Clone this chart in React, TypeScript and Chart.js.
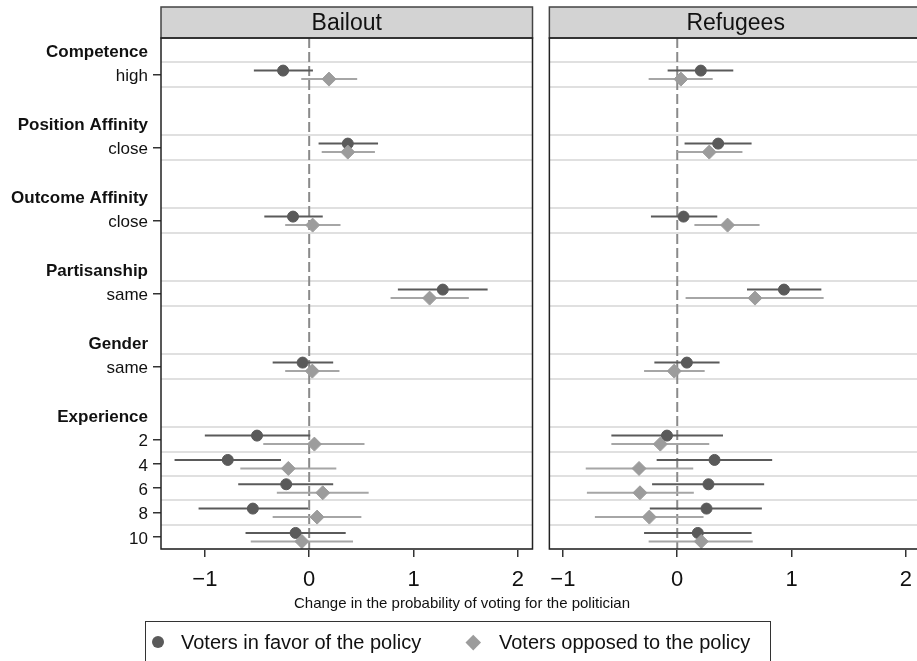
import React, { useEffect, useRef } from 'react';
import { Chart, registerables } from 'chart.js';

Chart.register(...registerables);

const FONT = '"Liberation Sans", Arial, Helvetica, sans-serif';

// Rows of the y axis, top to bottom (group headers, levels and spacer rows)
const rowLabels = [
  'Competence', 'high', '',
  'Position Affinity', 'close', '',
  'Outcome Affinity', 'close', '',
  'Partisanship', 'same', '',
  'Gender', 'same', '',
  'Experience', '2', '4', '6', '8', '10',
];
const headerRows = [0, 3, 6, 9, 12, 15];
const levelRows = [1, 4, 7, 10, 13, 16, 17, 18, 19, 20];
const xTickValues = [-1, 0, 1, 2];

// Bailout: voters in favor of the policy
const bailoutFavorEst = [-0.25, 0.37, -0.155, 1.28, -0.063, -0.5, -0.78, -0.22, -0.54, -0.13];
const bailoutFavorLo = [-0.53, 0.09, -0.43, 0.85, -0.35, -1.0, -1.29, -0.68, -1.06, -0.61];
const bailoutFavorHi = [0.036, 0.66, 0.13, 1.71, 0.23, 0.01, -0.27, 0.23, -0.01, 0.35];
// Bailout: voters opposed to the policy
const bailoutOpposedEst = [0.19, 0.37, 0.033, 1.154, 0.03, 0.05, -0.2, 0.13, 0.076, -0.07];
const bailoutOpposedLo = [-0.076, 0.12, -0.23, 0.78, -0.23, -0.44, -0.66, -0.31, -0.35, -0.56];
const bailoutOpposedHi = [0.46, 0.63, 0.3, 1.53, 0.29, 0.53, 0.26, 0.57, 0.5, 0.42];

// Refugees: voters in favor of the policy
const refugeesFavorEst = [0.206, 0.358, 0.055, 0.933, 0.084, -0.09, 0.326, 0.273, 0.256, 0.18];
const refugeesFavorLo = [-0.084, 0.064, -0.23, 0.61, -0.2, -0.576, -0.18, -0.22, -0.24, -0.29];
const refugeesFavorHi = [0.49, 0.65, 0.35, 1.26, 0.37, 0.4, 0.83, 0.76, 0.74, 0.65];
// Refugees: voters opposed to the policy
const refugeesOpposedEst = [0.032, 0.28, 0.44, 0.68, -0.026, -0.148, -0.334, -0.326, -0.244, 0.21];
const refugeesOpposedLo = [-0.25, 0.0, 0.15, 0.073, -0.29, -0.576, -0.8, -0.79, -0.72, -0.25];
const refugeesOpposedHi = [0.31, 0.57, 0.72, 1.28, 0.24, 0.28, 0.14, 0.145, 0.23, 0.66];

const FAVOR_COLOR = '#5a5a5a';
const OPPOSED_COLOR = '#9c9c9c';
const OPPOSED_BAR = '#a6a6a6';
const FAVOR_SHIFT = -0.16;
const OPPOSED_SHIFT = 0.19;
const Y_MIN = -0.5;
const Y_MAX = 20.5;

// light horizontal rules bounding every level row
const boundaryRows = Array.from(new Set(levelRows.flatMap((r) => [r - 0.5, r + 0.5])));

const stripPlugin = {
  id: 'panelStrip',
  afterDraw(chart: any, _args: any, opts: any) {
    const { ctx, chartArea } = chart;
    const { left, right, top, bottom } = chartArea;
    const stripTop = 7;
    ctx.save();
    ctx.fillStyle = '#d3d3d3';
    ctx.fillRect(left, stripTop, right - left, top - stripTop);
    ctx.lineWidth = 1.5;
    ctx.strokeStyle = '#444';
    ctx.strokeRect(left, stripTop, right - left, top - stripTop);
    ctx.strokeStyle = '#222';
    ctx.strokeRect(left, top, right - left, bottom - top);
    ctx.fillStyle = '#111';
    ctx.font = `23px ${FONT}`;
    ctx.textAlign = 'center';
    ctx.textBaseline = 'middle';
    ctx.fillText(opts.title, (left + right) / 2, (stripTop + top) / 2 + 1);
    ctx.restore();
  },
};

type PanelProps = {
  title: string;
  favorEst: number[];
  favorLo: number[];
  favorHi: number[];
  opposedEst: number[];
  opposedLo: number[];
  opposedHi: number[];
  xMin: number;
  xMax: number;
  showLabels: boolean;
  axisWidth: number;
  padRight: number;
  left: number;
  width: number;
  height: number;
};

function Panel(p: PanelProps) {
  const ref = useRef<HTMLCanvasElement>(null);

  useEffect(() => {
    const datasets: any[] = [];
    datasets.push({
      type: 'line',
      data: [{ x: 0, y: Y_MIN }, { x: 0, y: Y_MAX }],
      borderColor: '#8a8a8a',
      borderWidth: 2,
      borderDash: [10, 4],
      pointRadius: 0,
      showLine: true,
      order: 10,
    });
    levelRows.forEach((r, i) => {
      datasets.push({
        type: 'line',
        data: [
          { x: p.favorLo[i], y: r + FAVOR_SHIFT },
          { x: p.favorHi[i], y: r + FAVOR_SHIFT },
        ],
        borderColor: FAVOR_COLOR,
        borderWidth: 2,
        pointRadius: 0,
        showLine: true,
        order: 4,
      });
      datasets.push({
        type: 'line',
        data: [
          { x: p.opposedLo[i], y: r + OPPOSED_SHIFT },
          { x: p.opposedHi[i], y: r + OPPOSED_SHIFT },
        ],
        borderColor: OPPOSED_BAR,
        borderWidth: 2,
        pointRadius: 0,
        showLine: true,
        order: 2,
      });
    });
    datasets.push({
      type: 'scatter',
      label: 'Voters in favor of the policy',
      data: levelRows.map((r, i) => ({ x: p.favorEst[i], y: r + FAVOR_SHIFT })),
      pointStyle: 'circle',
      pointRadius: 5.5,
      backgroundColor: FAVOR_COLOR,
      borderColor: FAVOR_COLOR,
      borderWidth: 1,
      order: 3,
    });
    datasets.push({
      type: 'scatter',
      label: 'Voters opposed to the policy',
      data: levelRows.map((r, i) => ({ x: p.opposedEst[i], y: r + OPPOSED_SHIFT })),
      pointStyle: 'rectRot',
      pointRadius: 7,
      backgroundColor: OPPOSED_COLOR,
      borderColor: OPPOSED_COLOR,
      borderWidth: 1,
      order: 1,
    });

    const chart = new Chart(ref.current as HTMLCanvasElement, {
      type: 'scatter',
      data: { datasets },
      plugins: [stripPlugin],
      options: {
        animation: false,
        responsive: false,
        events: [],
        layout: { padding: { top: 38, right: p.padRight, bottom: 0, left: 0 } },
        plugins: {
          legend: { display: false },
          tooltip: { enabled: false },
          panelStrip: { title: p.title },
        } as any,
        scales: {
          x: {
            type: 'linear',
            position: 'bottom',
            min: p.xMin,
            max: p.xMax,
            afterBuildTicks: (s: any) => {
              s.ticks = xTickValues.map((v) => ({ value: v }));
            },
            afterFit: (s: any) => {
              s.height = 51;
            },
            ticks: {
              font: { family: FONT, size: 22 },
              color: '#111',
              padding: 10,
              maxRotation: 0,
              callback: (v: any) => (v < 0 ? '\u2212' + Math.abs(v) : String(v)),
            },
            grid: { drawOnChartArea: false, drawTicks: true, tickLength: 8, color: '#333', lineWidth: 1.5 },
            border: { display: false },
          },
          y: {
            type: 'linear',
            position: 'left',
            min: Y_MIN,
            max: Y_MAX,
            reverse: true,
            afterBuildTicks: (s: any) => {
              s.ticks = rowLabels.map((_, i) => ({ value: i }));
            },
            afterFit: (s: any) => {
              s.width = p.axisWidth;
            },
            ticks: {
              display: p.showLabels,
              autoSkip: false,
              padding: 5,
              labelOffset: 2,
              color: '#111',
              font: (ctx: any) => ({
                family: FONT,
                size: 17,
                weight: headerRows.includes(ctx.tick?.value) ? 'bold' : 'normal',
              }),
              callback: (v: any) => rowLabels[v] ?? '',
            },
            grid: {
              drawOnChartArea: false,
              drawTicks: p.showLabels,
              tickLength: 8,
              lineWidth: 1.5,
              color: (ctx: any) => (levelRows.includes(ctx.tick?.value) ? '#333' : 'rgba(0,0,0,0)'),
            },
            border: { display: false },
          },
          rows: {
            type: 'linear',
            position: 'right',
            min: Y_MIN,
            max: Y_MAX,
            reverse: true,
            afterBuildTicks: (s: any) => {
              s.ticks = boundaryRows.map((v) => ({ value: v }));
            },
            afterFit: (s: any) => {
              s.width = 0;
            },
            ticks: { display: false },
            grid: { drawOnChartArea: true, drawTicks: false, color: '#e0e0e0', lineWidth: 2 },
            border: { display: false },
          },
        } as any,
      },
    } as any);
    return () => chart.destroy();
  }, []);

  return (
    <canvas
      ref={ref}
      width={p.width}
      height={p.height}
      style={{ position: 'absolute', left: p.left, top: 0, width: p.width, height: p.height }}
    />
  );
}

export default function App() {
  const textStyle: React.CSSProperties = {
    position: 'absolute',
    fontFamily: FONT,
    color: '#111',
    whiteSpace: 'nowrap',
  };
  return (
    <div
      style={{
        position: 'absolute',
        left: 0,
        top: 0,
        width: 917,
        height: 661,
        overflow: 'hidden',
        background: '#fff',
      }}
    >
      <Panel
        title="Bailout"
        favorEst={bailoutFavorEst}
        favorLo={bailoutFavorLo}
        favorHi={bailoutFavorHi}
        opposedEst={bailoutOpposedEst}
        opposedLo={bailoutOpposedLo}
        opposedHi={bailoutOpposedHi}
        xMin={-1.42}
        xMax={2.14}
        showLabels={true}
        axisWidth={161}
        padRight={12.5}
        left={0}
        width={545}
        height={600}
      />
      <Panel
        title="Refugees"
        favorEst={refugeesFavorEst}
        favorLo={refugeesFavorLo}
        favorHi={refugeesFavorHi}
        opposedEst={refugeesOpposedEst}
        opposedLo={refugeesOpposedLo}
        opposedHi={refugeesOpposedHi}
        xMin={-1.118}
        xMax={2.14}
        showLabels={false}
        axisWidth={9}
        padRight={18}
        left={540}
        width={400}
        height={600}
      />
      <div
        style={{
          ...textStyle,
          left: 162,
          width: 600,
          top: 594,
          textAlign: 'center',
          fontSize: 15,
          lineHeight: '18px',
        }}
      >
        Change in the probability of voting for the politician
      </div>
      <div
        style={{
          position: 'absolute',
          left: 145,
          top: 621,
          width: 626,
          height: 60,
          border: '1.5px solid #333',
          boxSizing: 'border-box',
        }}
      />
      <div
        style={{
          position: 'absolute',
          left: 152,
          top: 636,
          width: 12,
          height: 12,
          borderRadius: '50%',
          background: FAVOR_COLOR,
        }}
      />
      <div style={{ ...textStyle, left: 181, top: 630, fontSize: 20, lineHeight: '24px' }}>
        Voters in favor of the policy
      </div>
      <div
        style={{
          position: 'absolute',
          left: 467.5,
          top: 636.5,
          width: 10.5,
          height: 10.5,
          transform: 'rotate(45deg)',
          background: OPPOSED_COLOR,
        }}
      />
      <div style={{ ...textStyle, left: 499, top: 630, fontSize: 20, lineHeight: '24px' }}>
        Voters opposed to the policy
      </div>
    </div>
  );
}
